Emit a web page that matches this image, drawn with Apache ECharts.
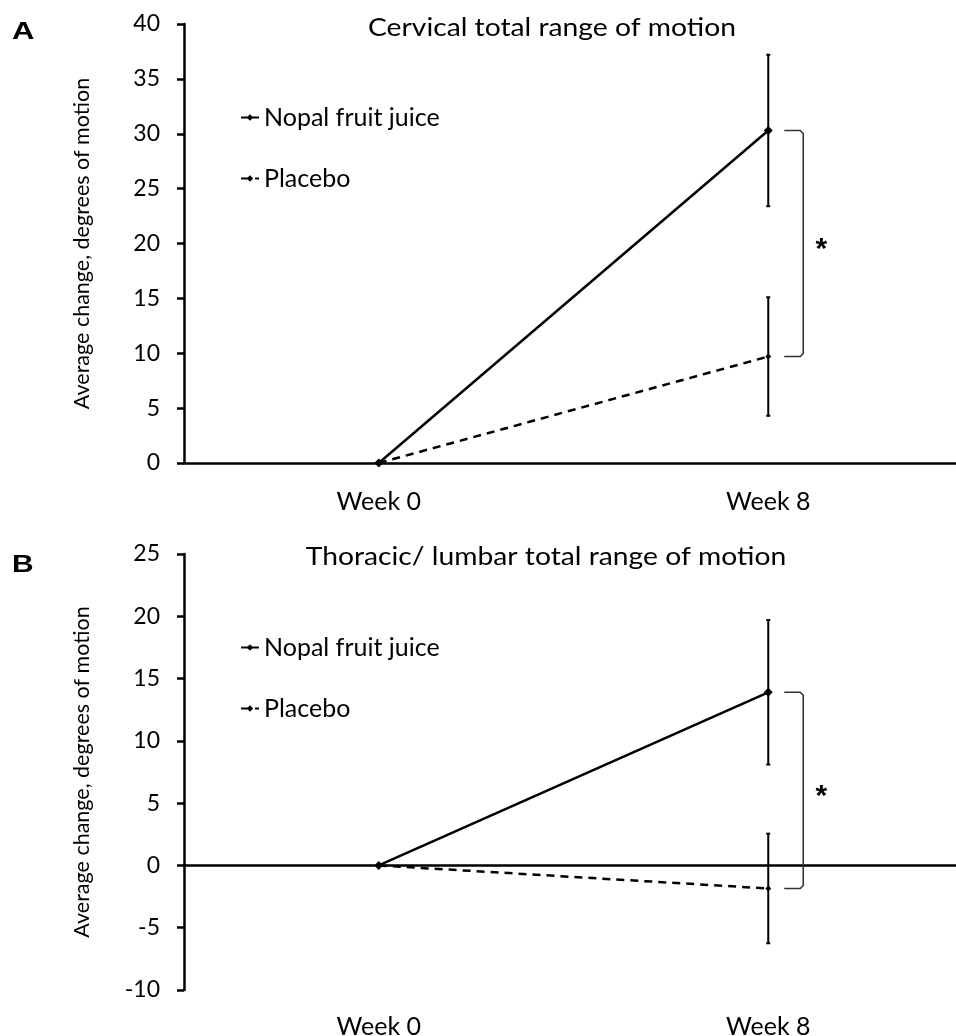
<!DOCTYPE html>
<html><head><meta charset="utf-8">
<script src="https://cdn.jsdelivr.net/npm/echarts@6/dist/echarts.min.js"></script>
<style>html,body{margin:0;padding:0;background:#fff}#c{width:956px;height:1036px}</style>
</head><body><div id="c"></div>
<script>
// ---- data ----
const categories = ['Week 0', 'Week 8'];
const seriesNames = ['Nopal fruit juice', 'Placebo'];
const titles = ['Cervical total range of motion', 'Thoracic/ lumbar total range of motion'];
const panelLetters = ['A', 'B'];
const yAxisName = 'Average change, degrees of motion';
const significanceMark = '*';
// Panel A: cervical
const cervicalNopal = [0, 30.3];
const cervicalNopalErr = [0, 6.9];
const cervicalPlacebo = [0, 9.7];
const cervicalPlaceboErr = [0, 5.4];
// Panel B: thoracic / lumbar
const thoracicNopal = [0, 13.9];
const thoracicNopalErr = [0, 5.8];
const thoracicPlacebo = [0, -1.85];
const thoracicPlaceboErr = [0, 4.4];
// axis ranges
const yRangeA = [0, 40];
const yRangeB = [-10, 25];
const yStep = 5;

// ---- styling ----
const FONT = 'Lato';
const BLACK = '#000';

function errData(vals, errs) {
  const out = [];
  vals.forEach((v, i) => { if (errs[i] > 0) out.push([i, v - errs[i], v + errs[i]]); });
  return out;
}
function errRender(params, api) {
  const x = api.value(0);
  const p1 = api.coord([x, api.value(1)]);
  const p2 = api.coord([x, api.value(2)]);
  const cap = 2;
  const st = { stroke: BLACK, lineWidth: 2 };
  return { type: 'group', children: [
    { type: 'line', shape: { x1: p1[0], y1: p1[1], x2: p2[0], y2: p2[1] }, style: st },
    { type: 'line', shape: { x1: p1[0] - cap, y1: p1[1], x2: p1[0] + cap, y2: p1[1] }, style: st },
    { type: 'line', shape: { x1: p2[0] - cap, y1: p2[1], x2: p2[0] + cap, y2: p2[1] }, style: st }
  ]};
}
function bracketRender(params, api) {
  const x = api.value(0);
  const p1 = api.coord([x, api.value(1)]);
  const p2 = api.coord([x, api.value(2)]);
  const xa = p1[0] + 16, xb = p1[0] + 35;
  const y1 = p1[1], y2 = p2[1];
  return { type: 'group', children: [
    { type: 'polyline', shape: { points: [[xa, y1], [xb - 3, y1], [xb, y1 + 3], [xb, y2 - 3], [xb - 3, y2], [xa, y2]] },
      style: { stroke: '#333', lineWidth: 1.6, fill: null } },
    { type: 'text', x: xb + 18, y: (y1 + y2) / 2 + 6,
      style: { text: significanceMark, fill: BLACK, font: 'bold 30px "Liberation Sans"', align: 'center', verticalAlign: 'middle' } }
  ]};
}

function lineSeries(name, data, gi, dashed, symSize) {
  return {
    type: 'line', name, data, xAxisIndex: gi === 0 ? 0 : 1, yAxisIndex: gi,
    symbol: 'diamond', symbolSize: symSize, showAllSymbol: true,
    lineStyle: { color: BLACK, width: 2.5, type: dashed ? [8, 6] : 'solid' },
    itemStyle: { color: BLACK }, z: 3
  };
}
function customSeries(renderItem, data, gi) {
  return { type: 'custom', renderItem, data, xAxisIndex: gi === 0 ? 0 : 1, yAxisIndex: gi,
    encode: { x: 0, y: [1, 2] }, silent: true, z: 2 };
}

const axisLineStyle = { color: BLACK, width: 2.5 };
const tickLabel = { color: BLACK, fontSize: 23, fontFamily: FONT };
const catLabel = { color: BLACK, fontSize: 25, fontFamily: FONT };

function yAxis(gi, range) {
  return {
    gridIndex: gi, type: 'value', min: range[0], max: range[1], interval: yStep,
    splitLine: { show: false },
    axisLine: { show: true, onZero: false, lineStyle: axisLineStyle },
    axisTick: { show: true, length: 7, lineStyle: axisLineStyle },
    axisLabel: Object.assign({ margin: 24 }, tickLabel),
    name: yAxisName, nameLocation: 'middle', nameGap: 91, nameRotate: 90,
    nameTextStyle: { color: BLACK, fontSize: 21.5, fontFamily: FONT }
  };
}
function legend(top) {
  return {
    data: seriesNames, orient: 'vertical', left: 235, top, itemGap: 36,
    itemWidth: 18, itemHeight: 8, selectedMode: false,
    textStyle: { color: BLACK, fontSize: 25, fontFamily: FONT }
  };
}
function textEl(x, y, text, font, scaleX, align) {
  return { type: 'text', x, y, scaleX, style: { text, font, fill: BLACK, align, verticalAlign: 'middle' } };
}

const option = {
  animation: false,
  backgroundColor: '#fff',
  grid: [
    { left: 184, top: 24, width: 779, height: 439, outerBoundsMode: 'none' },
    { left: 184, top: 554, width: 779, height: 436, outerBoundsMode: 'none' }
  ],
  xAxis: [
    { gridIndex: 0, type: 'category', data: categories, boundaryGap: true,
      axisLine: { lineStyle: axisLineStyle }, axisTick: { length: 8, lineStyle: axisLineStyle },
      axisLabel: Object.assign({ margin: 26 }, catLabel) },
    { gridIndex: 1, type: 'category', data: categories, boundaryGap: true, position: 'bottom',
      axisLine: { onZero: true, lineStyle: axisLineStyle }, axisTick: { length: 8, lineStyle: axisLineStyle },
      axisLabel: { show: false } },
    { gridIndex: 1, type: 'category', data: categories, boundaryGap: true, position: 'bottom',
      axisLine: { show: false, onZero: false }, axisTick: { show: false },
      axisLabel: Object.assign({ margin: 24 }, catLabel) }
  ],
  yAxis: [yAxis(0, yRangeA), yAxis(1, yRangeB)],
  legend: [legend(100), legend(630)],
  graphic: [
    textEl(12, 33, panelLetters[0], 'bold 23px "Liberation Sans"', 1.35, 'left'),
    textEl(12, 566, panelLetters[1], 'bold 23px "Liberation Sans"', 1.3, 'left'),
    textEl(552, 28, titles[0], '25px ' + FONT, 1.13, 'center'),
    textEl(546, 557, titles[1], '25px ' + FONT, 1.13, 'center')
  ],
  series: [
    customSeries(errRender, errData(cervicalNopal, cervicalNopalErr), 0),
    customSeries(errRender, errData(cervicalPlacebo, cervicalPlaceboErr), 0),
    customSeries(bracketRender, [[1, cervicalNopal[1], cervicalPlacebo[1]]], 0),
    lineSeries(seriesNames[0], cervicalNopal, 0, false, 9),
    lineSeries(seriesNames[1], cervicalPlacebo, 0, true, 6),
    customSeries(errRender, errData(thoracicNopal, thoracicNopalErr), 1),
    customSeries(errRender, errData(thoracicPlacebo, thoracicPlaceboErr), 1),
    customSeries(bracketRender, [[1, thoracicNopal[1], thoracicPlacebo[1]]], 1),
    lineSeries(seriesNames[0], thoracicNopal, 1, false, 9),
    lineSeries(seriesNames[1], thoracicPlacebo, 1, true, 6)
  ]
};
const chart = echarts.init(document.getElementById('c'), null, { renderer: 'canvas' });
chart.setOption(option);
</script>
</body></html>
